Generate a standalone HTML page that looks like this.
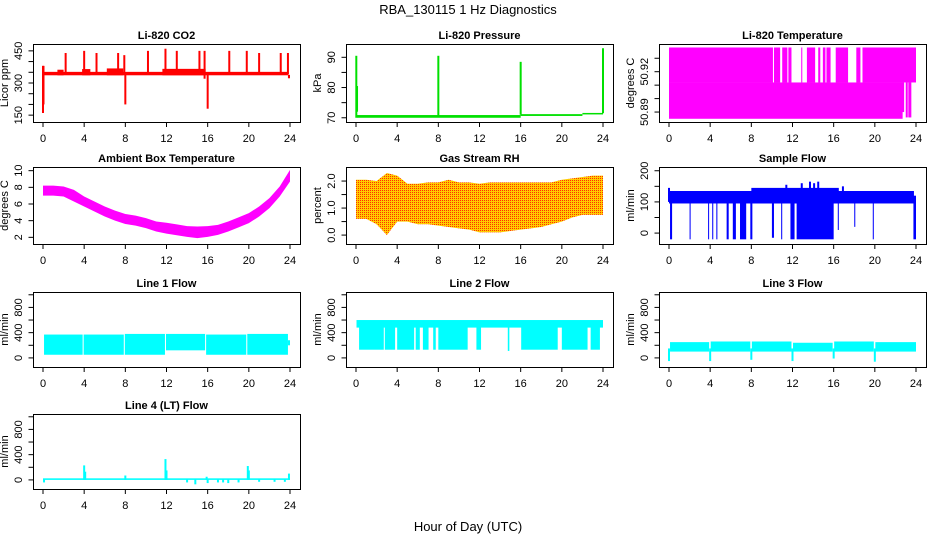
<!DOCTYPE html>
<html><head><meta charset="utf-8"><style>
html,body{margin:0;padding:0;background:#fff;}
svg{display:block;font-family:"Liberation Sans",sans-serif;}
</style></head><body>
<svg id="c" width="936" height="540" xmlns="http://www.w3.org/2000/svg">
<defs><pattern id="rhpat" width="2" height="2" patternUnits="userSpaceOnUse"><rect width="2" height="2" fill="#ffcc00"/><rect width="1" height="1" fill="#ff3000"/></pattern></defs>
<text x="468" y="14" text-anchor="middle" font-size="13">RBA_130115  1 Hz Diagnostics</text>
<text x="468" y="531" text-anchor="middle" font-size="13">Hour of Day (UTC)</text>
</svg>
<script>
const xTicks=[0,4,8,12,16,20,24];
// CO2
const co2BlockStart=[0.1,1.4,3.8,6.2,11.6,23.8];
const co2BlockEnd=[23.8,2.0,4.6,7.8,15.8,24.0];
const co2BlockLo=[336,336,336,336,336,322];
const co2BlockHi=[352,362,365,368,366,338];
const co2SpikeT=[0.0,0.05,2.2,4.0,5.2,7.3,7.9,8.0,10.2,11.9,13.0,15.2,15.7,16.0,18.1,19.8,21.0,23.1,23.8];
const co2SpikeLo=[160,200,340,340,340,340,340,200,340,340,340,340,320,180,340,340,340,340,340];
const co2SpikeHi=[380,380,440,450,440,440,430,350,450,460,450,450,450,350,450,450,440,440,440];
// Pressure
const prBlockStart=[0.1,16,22];
const prBlockEnd=[16,22,24];
const prBlockLo=[70.0,70.6,71.1];
const prBlockHi=[70.9,71.2,71.6];
const prSpikeT=[0.03,0.1,8.0,16.0,24.0];
const prSpikeLo=[70,72,70.5,71,71.5];
const prSpikeHi=[90.5,80.5,90.5,88.5,93];
// Li-820 temperature
const tpBlockStart=[0,0,10.2,11.0,11.6,12.85,13.4,14.5,14.95,15.3,16.2,18.2,18.8];
const tpBlockEnd=[22.7,10.1,10.8,11.5,11.9,12.95,14.2,14.7,15.2,15.7,17.4,18.6,24];
const tpBlockLo=[50.885,50.912,50.912,50.912,50.912,50.912,50.912,50.912,50.912,50.912,50.912,50.912,50.912];
const tpBlockHi=[50.912,50.938,50.938,50.938,50.938,50.938,50.938,50.938,50.938,50.938,50.938,50.938,50.938];
const tpSpikeT=[22.75,23.1,23.35,23.45];
const tpSpikeLo=[50.89,50.886,50.886,50.886];
const tpSpikeHi=[50.912,50.912,50.912,50.912];
// Ambient box temperature (hourly centre)
const ambHours=[0,1,2,3,4,5,6,7,8,9,10,11,12,13,14,15,16,17,18,19,20,21,22,23,24];
const ambCenter=[7.6,7.6,7.5,7.0,6.3,5.7,5.1,4.6,4.2,4.0,3.7,3.3,3.1,2.9,2.7,2.6,2.7,2.9,3.3,3.8,4.3,5.1,6.1,7.5,9.4];
const ambHalfWidth=[0.6,0.6,0.6,0.7,0.6,0.6,0.6,0.6,0.6,0.6,0.6,0.6,0.65,0.65,0.65,0.7,0.65,0.6,0.6,0.6,0.6,0.6,0.6,0.6,0.7];
// Gas stream RH
const rhHours=[0,1,2,3,4,5,6,7,8,9,10,11,12,13,14,15,16,17,18,19,20,21,22,23,24];
const rhHi=[2.05,2.05,2.0,2.3,2.2,1.9,1.9,1.95,1.95,2.05,1.95,1.95,1.9,1.95,1.95,1.95,1.95,1.95,1.95,1.95,2.05,2.1,2.15,2.2,2.2];
const rhLo=[0.6,0.6,0.4,0.0,0.5,0.5,0.4,0.4,0.35,0.3,0.25,0.2,0.1,0.1,0.1,0.15,0.2,0.25,0.3,0.4,0.5,0.65,0.75,0.75,0.75];
// Sample flow
const sfBlockStart=[0,8,0.1,2.0,3.8,4.2,4.6,5.6,6.2,6.9,7.9,10.0,10.9,11.8,12.4,16.4,18.0,19.8,23.75];
const sfBlockEnd=[23.8,16.5,0.3,2.1,3.85,4.3,4.7,5.8,6.5,7.5,8.1,10.2,11.0,12.2,16.0,16.5,18.1,19.9,24];
const sfBlockLo=[95,95,-20,-20,-20,-20,-20,-20,-20,-20,-20,-15,-20,-20,-20,10,20,-20,-20];
const sfBlockHi=[135,145,100,100,100,100,100,100,100,100,100,100,100,100,100,100,100,100,120];
const sfSpikeT=[0.0,12.9,13.7,14.1,14.5,11.4,16.9];
const sfSpikeLo=[100,100,100,100,100,100,100];
const sfSpikeHi=[145,160,165,160,165,155,150];
// Line 1
const l1BlockStart=[0.1,3.95,7.95,11.95,15.85,19.85,23.8];
const l1BlockEnd=[3.85,7.85,11.85,15.75,19.75,23.8,24];
const l1BlockLo=[50,50,50,120,50,50,200];
const l1BlockHi=[370,370,380,380,370,380,280];
// Line 2
const l2BlockStart=[0.05,0.3,2.8,4.0,5.8,6.5,7.5,8.0,11.7,14.75,16.05,20.0,22.8];
const l2BlockEnd=[24,2.7,3.8,5.65,6.2,7.05,7.75,10.85,12.15,14.9,19.6,22.5,23.7];
const l2BlockLo=[480,130,130,130,130,130,130,130,130,110,130,130,130];
const l2BlockHi=[600,500,500,500,500,500,500,500,500,500,500,500,500];
// Line 3
const l3BlockStart=[0.1,4.05,8.05,12.05,16.05,20.05];
const l3BlockEnd=[3.9,7.9,11.9,15.9,19.9,24];
const l3BlockLo=[100,100,100,100,100,100];
const l3BlockHi=[250,260,260,240,260,250];
const l3SpikeT=[0.0,4.0,8.0,12.0,16.0,20.0];
const l3SpikeLo=[-50,-50,-30,-50,-10,-60];
const l3SpikeHi=[150,150,150,150,150,150];
// Line 4
const l4BlockStart=[0];
const l4BlockEnd=[24];
const l4BlockLo=[0];
const l4BlockHi=[25];
const l4SpikeT=[4.0,4.1,8.0,11.9,12.0,15.9,19.9,20.0,23.9,0.1,14.0,14.8,16.0,17.0,17.5,18.0,19.0,21.0,22.5,23.5];
const l4SpikeLo=[0,0,0,0,0,0,0,0,0,-40,-40,-70,-50,-40,-40,-50,-40,-30,-30,-30];
const l4SpikeHi=[230,130,70,330,150,50,220,150,100,20,20,20,20,20,20,20,20,20,20,20];

const NS="http://www.w3.org/2000/svg";
const svg=document.getElementById('c');
const rowTop=[44,167,292,414], rowBot=[122,244,367,489];
function mk(tag,attrs,parent){const e=document.createElementNS(NS,tag);for(const k in attrs)e.setAttribute(k,attrs[k]);(parent||svg).appendChild(e);return e;}

const panels=[
 {r:0,c:0,name:'co2',title:'Li-820 CO2',ylab:'Licor ppm',ylim:[118,482],yt:[150,200,250,300,350,400,450],yl:[150,300,450],col:'#ff0000',b:[co2BlockStart,co2BlockEnd,co2BlockLo,co2BlockHi],s:[co2SpikeT,co2SpikeLo,co2SpikeHi]},
 {r:0,c:1,name:'pressure',title:'Li-820 Pressure',ylab:'kPa',ylim:[68.6,94.4],yt:[70,75,80,85,90],yl:[70,80,90],col:'#00e000',b:[prBlockStart,prBlockEnd,prBlockLo,prBlockHi],s:[prSpikeT,prSpikeLo,prSpikeHi]},
 {r:0,c:2,name:'li820-temperature',title:'Li-820 Temperature',ylab:'degrees C',ylim:[50.8826,50.9406],yt:[50.89,50.90,50.91,50.92,50.93],yl:[50.89,50.92],col:'#ff00ff',b:[tpBlockStart,tpBlockEnd,tpBlockLo,tpBlockHi],s:[tpSpikeT,tpSpikeLo,tpSpikeHi]},
 {r:1,c:0,name:'ambient-temperature',title:'Ambient Box Temperature',ylab:'degrees C',ylim:[1.2,10.44],yt:[2,4,6,8,10],yl:[2,4,6,8,10],col:'#ff00ff',band:[ambHours,ambCenter.map((v,i)=>v-ambHalfWidth[i]),ambCenter.map((v,i)=>v+ambHalfWidth[i])]},
 {r:1,c:1,name:'gas-stream-rh',title:'Gas Stream RH',ylab:'percent',ylim:[-0.33,2.52],yt:[0,0.5,1,1.5,2],yl:['0.0','1.0','2.0'],col:'url(#rhpat)',band:[rhHours,rhLo,rhHi]},
 {r:1,c:2,name:'sample-flow',title:'Sample Flow',ylab:'ml/min',ylim:[-35,212],yt:[0,50,100,150,200],yl:[0,100,200],col:'#0000ff',b:[sfBlockStart,sfBlockEnd,sfBlockLo,sfBlockHi],s:[sfSpikeT,sfSpikeLo,sfSpikeHi]},
 {r:2,c:0,name:'line1-flow',title:'Line 1 Flow',ylab:'ml/min',ylim:[-144,1044],yt:[0,200,400,600,800,1000],yl:[0,400,800],col:'#00ffff',b:[l1BlockStart,l1BlockEnd,l1BlockLo,l1BlockHi]},
 {r:2,c:1,name:'line2-flow',title:'Line 2 Flow',ylab:'ml/min',ylim:[-144,1044],yt:[0,200,400,600,800,1000],yl:[0,400,800],col:'#00ffff',b:[l2BlockStart,l2BlockEnd,l2BlockLo,l2BlockHi]},
 {r:2,c:2,name:'line3-flow',title:'Line 3 Flow',ylab:'ml/min',ylim:[-144,1044],yt:[0,200,400,600,800,1000],yl:[0,400,800],col:'#00ffff',b:[l3BlockStart,l3BlockEnd,l3BlockLo,l3BlockHi],s:[l3SpikeT,l3SpikeLo,l3SpikeHi]},
 {r:3,c:0,name:'line4-flow',title:'Line 4 (LT) Flow',ylab:'ml/min',ylim:[-144,1044],yt:[0,200,400,600,800,1000],yl:[0,400,800],col:'#00ffff',b:[l4BlockStart,l4BlockEnd,l4BlockLo,l4BlockHi],s:[l4SpikeT,l4SpikeLo,l4SpikeHi]}
];

panels.forEach(p=>{
 const L=33+313*p.c, R=L+267, T=rowTop[p.r], B=rowBot[p.r];
 const x0=L+10, x1=L+257;
 const X=t=>x0+(x1-x0)*t/24;
 const Y=v=>B-(v-p.ylim[0])/(p.ylim[1]-p.ylim[0])*(B-T);
 const g=mk('g',{});
 
 
 const cp=mk('clipPath',{id:'clip-'+p.name},g);
 mk('rect',{x:L,y:T,width:R-L,height:B-T},cp);
 const dg=mk('g',{'clip-path':'url(#clip-'+p.name+')'},g);
 
 
 if(p.b){
  const [bs,be,bl,bh]=p.b;
  for(let i=0;i<bs.length;i++){
   const y1=Y(bh[i]), y2=Y(bl[i]);
   const r=mk('rect',{x:X(bs[i]),y:y1,width:Math.max(1,X(be[i])-X(bs[i])),height:Math.max(1,y2-y1),fill:p.col},dg);
   
   
  }
 }
 if(p.band){
  const [bt,lo,hi]=p.band;
  let pts=bt.map((t,i)=>X(t)+','+Y(hi[i]));
  for(let i=bt.length-1;i>=0;i--)pts.push(X(bt[i])+','+Y(lo[i]));
  const pg=mk('polygon',{points:pts.join(' '),fill:p.col},dg);
  
  
 }
 if(p.s){
  const [st,sl,sh]=p.s;
  for(let i=0;i<st.length;i++){
   const ln=mk('line',{x1:X(st[i]),x2:X(st[i]),y1:Y(sl[i]),y2:Y(sh[i]),stroke:p.col,'stroke-width':2},dg);
   
   
  }
 }
 const box=mk('rect',{x:L+0.5,y:T+0.5,width:R-L,height:B-T,fill:'none',stroke:'#000','stroke-width':1},g);
 
 
 xTicks.forEach(t=>{
  mk('line',{x1:X(t),x2:X(t),y1:B+0.5,y2:B+5,stroke:'#000'},g);
  const tx=mk('text',{x:X(t),y:B+20,'text-anchor':'middle','font-size':11},g);
  tx.textContent=t;
  
  
 });
 p.yt.forEach(v=>{mk('line',{x1:L-4.5,x2:L+0.5,y1:Y(v),y2:Y(v),stroke:'#000'},g);});
 p.yl.forEach(v=>{
  const yy=Y(parseFloat(v));
  const tx=mk('text',{x:L-11,y:yy,'text-anchor':'middle','font-size':11,transform:'rotate(-90 '+(L-11)+' '+yy+')'},g);
  tx.textContent=v;
  
  
 });
 const cy=(T+B)/2;
 const yl=mk('text',{x:L-25,y:cy,'text-anchor':'middle','font-size':11,transform:'rotate(-90 '+(L-25)+' '+cy+')'},g);
 yl.textContent=p.ylab;
 
 
 const ti=mk('text',{x:(L+R)/2,y:T-5,'text-anchor':'middle','font-size':11,'font-weight':'bold'},g);
 ti.textContent=p.title;
 
 
});
</script>
</body></html>
